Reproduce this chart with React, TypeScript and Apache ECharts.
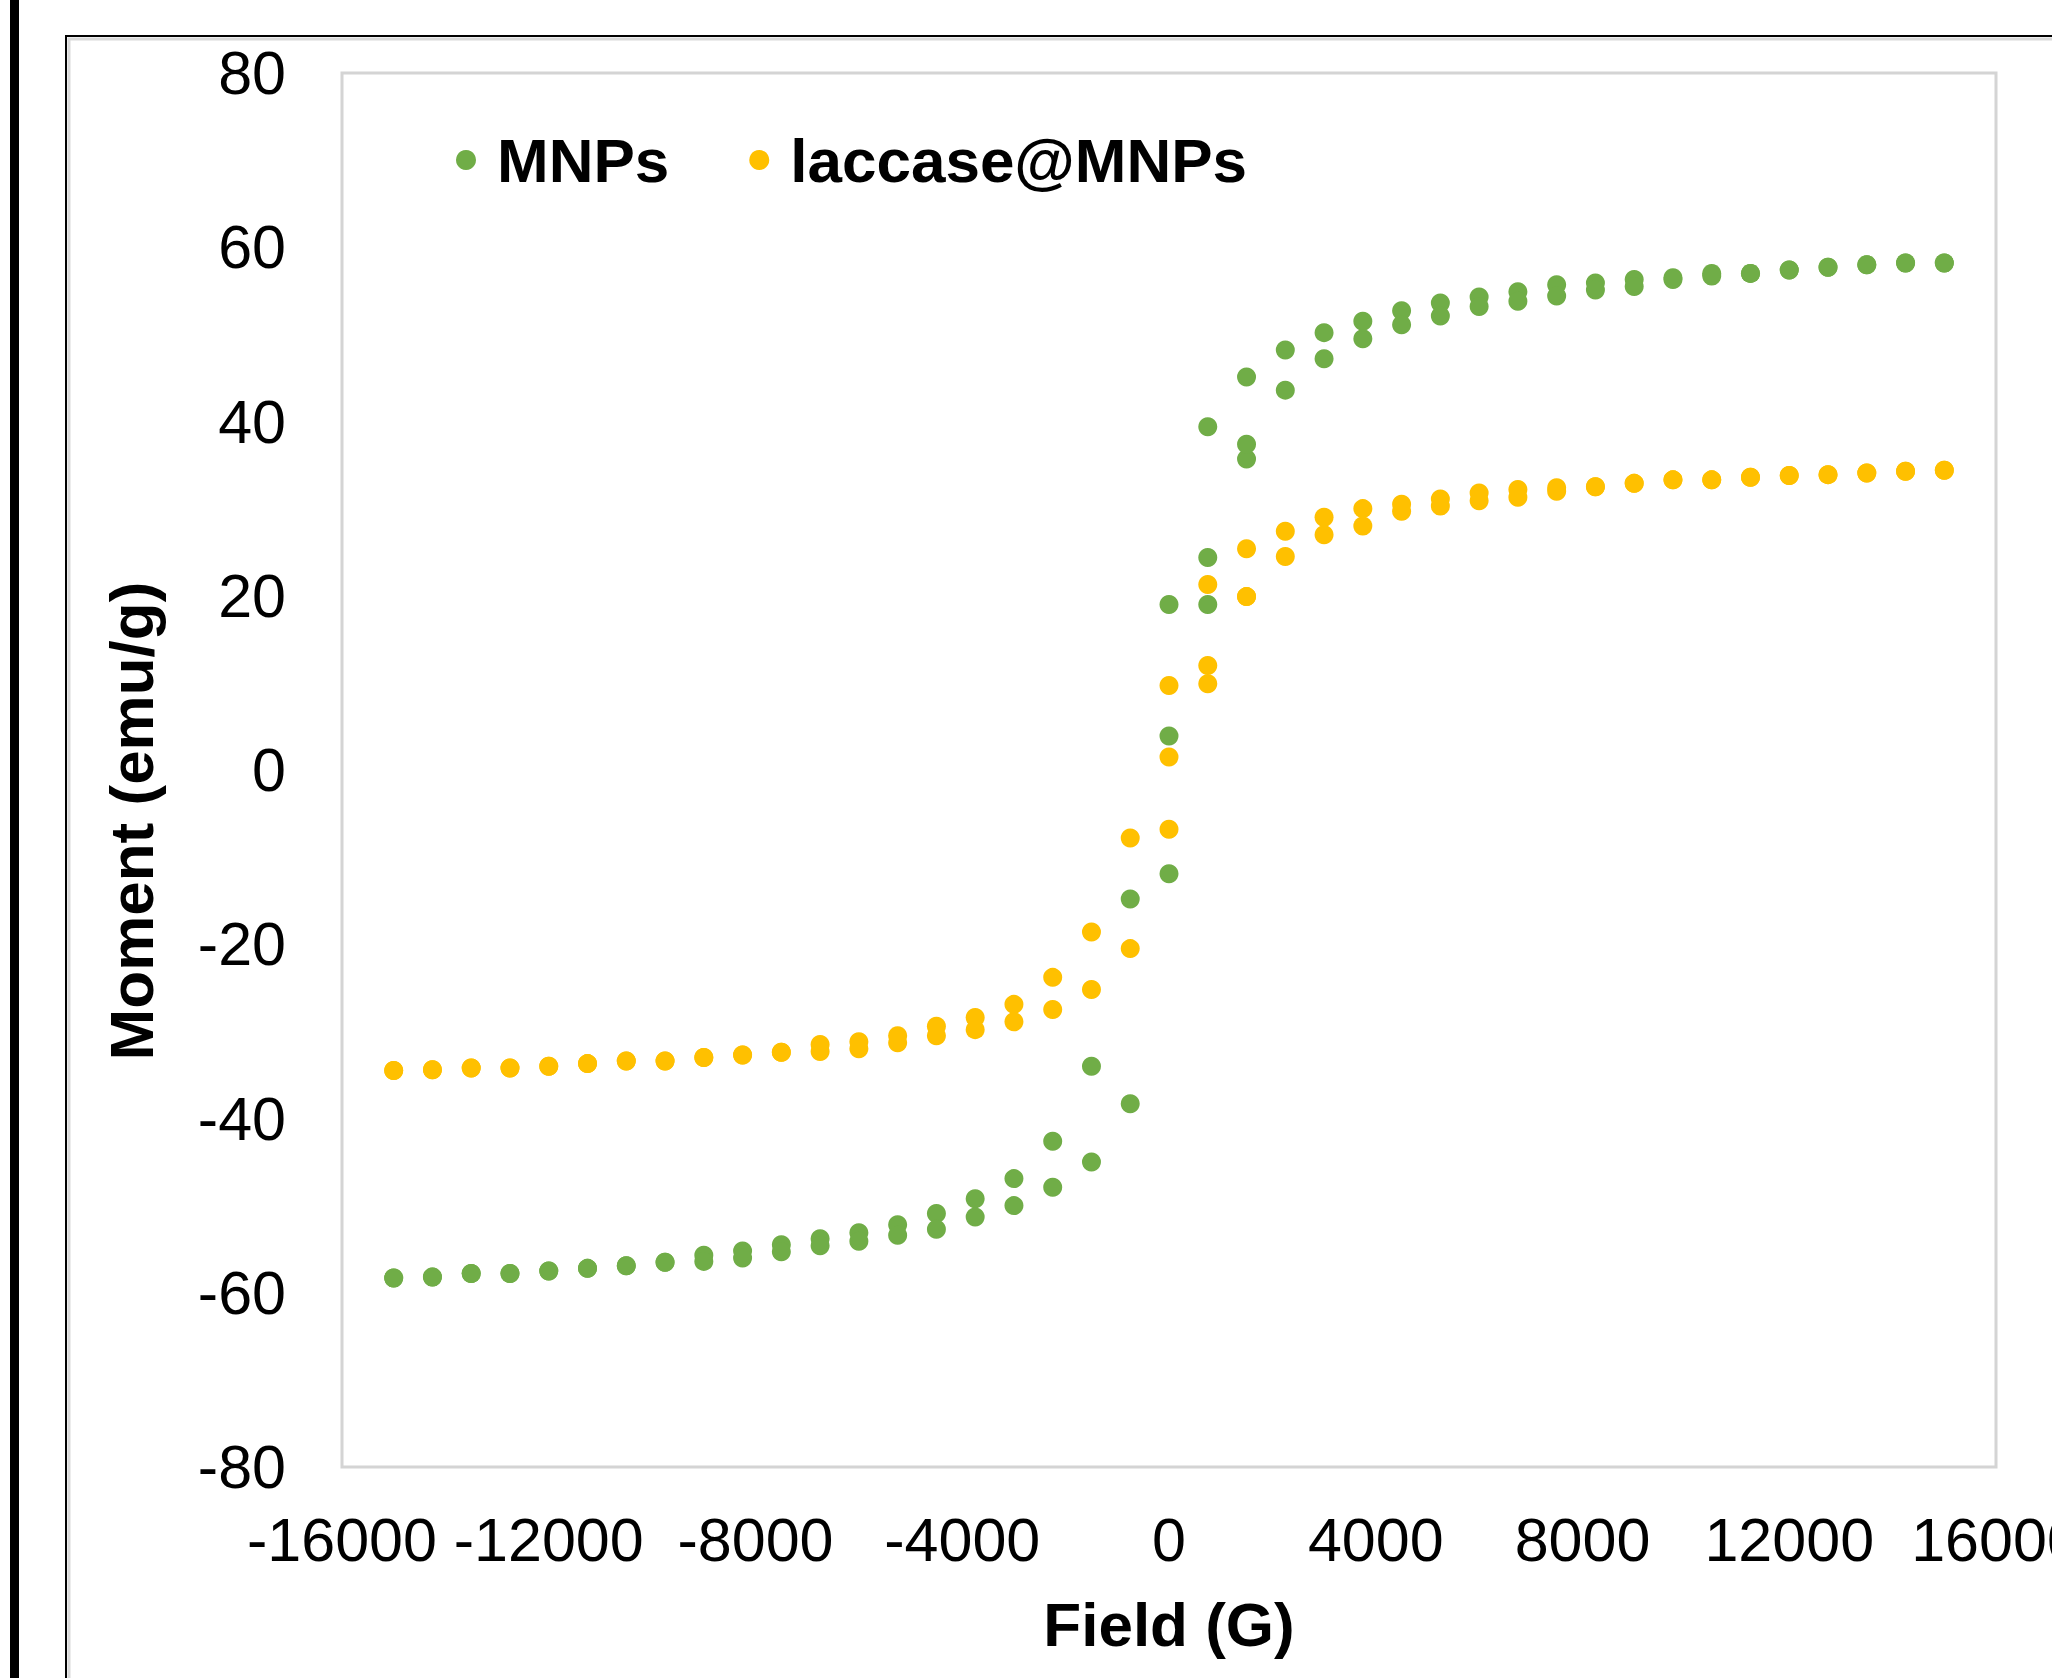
import React, { useEffect, useRef } from "react";
import * as echarts from "echarts";

const fields = [
  -15000, -14250, -13500, -12750, -12000, -11250, -10500, -9750, -9000, -8250,
  -7500, -6750, -6000, -5250, -4500, -3750, -3000, -2250, -1500, -750,
  0, 750, 1500, 2250, 3000, 3750, 4500, 5250, 6000, 6750,
  7500, 8250, 9000, 9750, 10500, 11250, 12000, 12750, 13500, 14250, 15000,
];

const mnpsDescending = [
  -58.3, -58.2, -57.8, -57.8, -57.5, -57.2, -56.9, -56.5, -55.7, -55.2,
  -54.5, -53.8, -53.1, -52.2, -50.9, -49.2, -46.9, -42.6, -34.0, -14.8,
  19.0, 39.4, 45.1, 48.2, 50.2, 51.5, 52.7, 53.6, 54.3, 54.9,
  55.7, 55.9, 56.3, 56.5, 57.0, 57.0, 57.4, 57.7, 58.0, 58.2, 58.2,
];
const mnpsAscending = [
  -58.3, -58.2, -57.8, -57.8, -57.5, -57.2, -56.9, -56.5, -56.4, -56.0,
  -55.3, -54.6, -54.1, -53.4, -52.7, -51.3, -50.0, -47.9, -45.0, -38.3,
  -11.9, 19.0, 35.7, 43.6, 47.2, 49.5, 51.1, 52.1, 53.2, 53.8,
  54.4, 55.1, 55.5, 56.3, 56.7, 57.0, 57.4, 57.7, 58.0, 58.2, 58.2,
];
const laccaseDescending = [
  -34.5, -34.4, -34.2, -34.2, -34.0, -33.7, -33.4, -33.4, -33.0, -32.7,
  -32.4, -31.5, -31.2, -30.5, -29.4, -28.4, -26.9, -23.8, -18.6, -7.8,
  9.7, 21.3, 25.4, 27.4, 29.0, 30.0, 30.5, 31.1, 31.8, 32.2,
  32.4, 32.5, 32.9, 33.3, 33.3, 33.6, 33.8, 33.9, 34.1, 34.3, 34.4,
];
const laccaseAscending = [
  -34.5, -34.4, -34.2, -34.2, -34.0, -33.7, -33.4, -33.4, -33.0, -32.7,
  -32.4, -32.3, -32.0, -31.3, -30.5, -29.8, -28.9, -27.5, -25.2, -20.5,
  -6.8, 9.9, 19.9, 24.5, 27.0, 28.0, 29.7, 30.3, 30.9, 31.3,
  32.0, 32.5, 32.9, 33.3, 33.3, 33.6, 33.8, 33.9, 34.1, 34.3, 34.4,
];

const initialFields = [0, 750, 1500];
const mnpsInitial = [3.9, 24.4, 37.4];
const laccaseInitial = [1.5, 12.0, 19.9];

const seriesNames = ["MNPs", "laccase@MNPs"];
const seriesColors = ["#70AD47", "#FFC000"];
const xTitle = "Field (G)";
const yTitle = "Moment (emu/g)";

const FONT = "'Liberation Sans', Arial, sans-serif";

function buildPoints(desc: number[], asc: number[], init: number[]) {
  const pts: number[][] = [];
  fields.forEach((f, i) => pts.push([f, desc[i]]));
  fields.forEach((f, i) => pts.push([f, asc[i]]));
  initialFields.forEach((f, i) => pts.push([f, init[i]]));
  return pts;
}

export default function App() {
  const ref = useRef<HTMLDivElement>(null);
  useEffect(() => {
    if (!ref.current) return;
    const chart = echarts.init(ref.current, undefined, { renderer: "svg" });
    chart.setOption({
      animation: false,
      backgroundColor: "#ffffff",
      grid: {
        left: 342,
        top: 73,
        right: 56,
        bottom: 211,
        outerBoundsMode: "none",
        containLabel: false,
        show: true,
        borderColor: "#D4D4D4",
        borderWidth: 3,
        backgroundColor: "transparent",
      },
      legend: {
        left: 456,
        top: 129,
        padding: 0,
        itemWidth: 20,
        itemHeight: 20,
        itemGap: 80,
        icon: "circle",
        data: seriesNames,
        textStyle: {
          fontFamily: FONT,
          fontWeight: "bold",
          fontSize: 62,
          color: "#000",
          lineHeight: 62,
          padding: [0, 0, 0, 16],
        },
      },
      xAxis: {
        type: "value",
        min: -16000,
        max: 16000,
        interval: 4000,
        name: xTitle,
        nameLocation: "middle",
        nameGap: 126,
        nameTextStyle: { fontFamily: FONT, fontWeight: "bold", fontSize: 62, color: "#000" },
        axisLine: { show: false },
        axisTick: { show: false },
        splitLine: { show: false },
        axisLabel: {
          fontFamily: FONT,
          fontSize: 61,
          color: "#000",
          margin: 42,
          showMinLabel: true,
          showMaxLabel: true,
          formatter: (v: number) => String(v),
        },
      },
      yAxis: {
        type: "value",
        min: -80,
        max: 80,
        interval: 20,
        axisLine: { show: false },
        axisTick: { show: false },
        splitLine: { show: false },
        axisLabel: {
          fontFamily: FONT,
          fontSize: 61,
          color: "#000",
          margin: 56,
          padding: [0, 0, 6, 0],
          formatter: (v: number) => String(v),
        },
      },
      graphic: [
        { type: "rect", shape: { x: 10, y: 0, width: 9, height: 1678 }, style: { fill: "#000" } },
        { type: "polyline", shape: { points: [[66, 1678], [66, 36], [2052, 36]] }, style: { stroke: "#000", lineWidth: 2, fill: null } },
        { type: "polyline", shape: { points: [[69, 1678], [69, 39], [2052, 39]] }, style: { stroke: "#D9D9D9", lineWidth: 3, fill: null } },
        {
          type: "text",
          x: 131,
          y: 821,
          rotation: Math.PI / 2,
          style: {
            text: yTitle,
            align: "center",
            verticalAlign: "middle",
            fontFamily: FONT,
            fontWeight: "bold",
            fontSize: 62,
            fill: "#000",
          },
        },
      ],
      series: [
        {
          name: seriesNames[0],
          type: "scatter",
          symbol: "circle",
          symbolSize: 19,
          itemStyle: { color: seriesColors[0], opacity: 1 },
          data: buildPoints(mnpsDescending, mnpsAscending, mnpsInitial),
        },
        {
          name: seriesNames[1],
          type: "scatter",
          symbol: "circle",
          symbolSize: 19,
          itemStyle: { color: seriesColors[1], opacity: 1 },
          data: buildPoints(laccaseDescending, laccaseAscending, laccaseInitial),
        },
      ],
    });
    return () => chart.dispose();
  }, []);
  return (
    <div
      ref={ref}
      style={{ position: "fixed", left: 0, top: 0, width: 2052, height: 1678, background: "#fff" }}
    />
  );
}
